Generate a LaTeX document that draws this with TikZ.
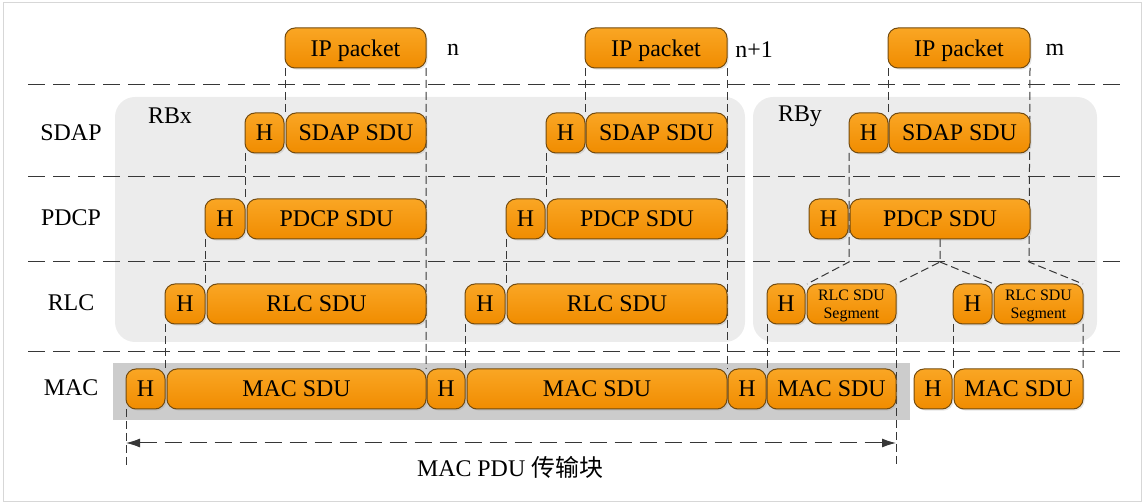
\documentclass[tikz,border=0pt]{standalone}
\usepackage{fontspec}
\setmainfont{Liberation Serif}
\newfontfamily\cjk{Noto Sans CJK SC}
\usetikzlibrary{positioning}
\usetikzlibrary{arrows.meta}
\usetikzlibrary{shadows}
\usetikzlibrary{backgrounds}
\definecolor{pkttop}{RGB}{250,166,36}
\definecolor{pktbot}{RGB}{240,140,0}
\definecolor{pktline}{RGB}{115,75,15}
\definecolor{rbfill}{RGB}{236,236,236}
\definecolor{macfill}{RGB}{204,204,204}
\definecolor{dashcol}{RGB}{55,55,55}
\definecolor{framecol}{RGB}{215,215,215}
\tikzset{
  pkt/.style={draw=pktline, line width=0.5bp, rounded corners=5bp, top color=pkttop, bottom color=pktbot,
    minimum height=20bp, inner sep=0pt, outer sep=0pt, anchor=west, font=\fontsize{12}{14}\selectfont,
    text depth=0pt, drop shadow={shadow xshift=0.8bp, shadow yshift=-0.8bp, opacity=0.2}},
  hdr/.style={pkt, minimum width=19.5bp},
  seg/.style={pkt, align=center, font=\fontsize{8}{9}\selectfont},
  layer/.style={font=\fontsize{12}{14}\selectfont},
  vdash/.style={draw=dashcol, line width=0.5bp, dash pattern=on 4bp off 2bp},
  hdash/.style={draw=dashcol, line width=0.5bp, dash pattern=on 8.5bp off 4bp},
  rb/.style={fill=rbfill, rounded corners=10bp},
}
\begin{document}
\begin{tikzpicture}[>={Latex[length=7bp,width=4.5bp]}]
\useasboundingbox (0bp,0bp) rectangle (572bp,251.5bp);
%%
  \node (l_sdap) at (35.5bp,185bp) [layer] {SDAP};
  \node (l_pdcp) at (35.5bp,142.5bp) [layer] {PDCP};
  \node (l_rlc) at (35.5bp,100bp) [layer] {RLC};
  \node (l_mac) at (35.5bp,57.5bp) [layer] {MAC};
  \node (rbx) at (85bp,193.5bp) [layer] {RBx};
  \node (rby) at (400bp,193.5bp) [layer] {RBy};
%% IP packets
  \node (ip_n) at (142.5bp,227.5bp) [pkt, minimum width=70.5bp] {IP packet};
  \node (ip_n1) at (292.5bp,227.5bp) [pkt, minimum width=71bp] {IP packet};
  \node (ip_m) at (444bp,227.5bp) [pkt, minimum width=71bp] {IP packet};
  \node (t_n) at (226.5bp,226.5bp) [layer] {n};
  \node (t_n1) at (377bp,226.5bp) [layer] {n+1};
  \node (t_m) at (527.5bp,226.5bp) [layer] {m};
%% SDAP
  \node (h_sdap_n) at (122.5bp,185bp) [hdr] {H};
  \node (sdap_n) at (143bp,185bp) [pkt, minimum width=70bp] {SDAP SDU};
  \node (h_sdap_n1) at (273bp,185bp) [hdr] {H};
  \node (sdap_n1) at (293bp,185bp) [pkt, minimum width=70.5bp] {SDAP SDU};
  \node (h_sdap_m) at (424.5bp,185bp) [hdr] {H};
  \node (sdap_m) at (444.5bp,185bp) [pkt, minimum width=70.5bp] {SDAP SDU};
%% PDCP
  \node (h_pdcp_n) at (102.5bp,142bp) [hdr, minimum width=20bp] {H};
  \node (pdcp_n) at (123.5bp,142bp) [pkt, minimum width=89.5bp] {PDCP SDU};
  \node (h_pdcp_n1) at (253bp,142bp) [hdr] {H};
  \node (pdcp_n1) at (273.5bp,142bp) [pkt, minimum width=90bp] {PDCP SDU};
  \node (h_pdcp_m) at (404.5bp,142bp) [hdr] {H};
  \node (pdcp_m) at (425bp,142bp) [pkt, minimum width=90bp] {PDCP SDU};
%% RLC
  \node (h_rlc_n) at (82.5bp,99.5bp) [hdr, minimum width=20bp] {H};
  \node (rlc_n) at (103.5bp,99.5bp) [pkt, minimum width=109.5bp] {RLC SDU};
  \node (h_rlc_n1) at (232.5bp,99.5bp) [hdr, minimum width=20bp] {H};
  \node (rlc_n1) at (253.5bp,99.5bp) [pkt, minimum width=110bp] {RLC SDU};
  \node (h_rlc_m1) at (383.5bp,99.5bp) [hdr, minimum width=19bp] {H};
  \node (seg_m1) at (403.5bp,99.5bp) [seg, minimum width=44.5bp] {RLC SDU\\Segment};
  \node (h_rlc_m2) at (476.5bp,99.5bp) [hdr] {H};
  \node (seg_m2) at (497bp,99.5bp) [seg, minimum width=44.5bp] {RLC SDU\\Segment};
%% MAC
  \node (h_mac_1) at (63bp,57bp) [hdr] {H};
  \node (mac_1) at (83.5bp,57bp) [pkt, minimum width=129.5bp] {MAC SDU};
  \node (h_mac_2) at (213.5bp,57bp) [hdr, minimum width=19bp] {H};
  \node (mac_2) at (233.5bp,57bp) [pkt, minimum width=130bp] {MAC SDU};
  \node (h_mac_3) at (364bp,57bp) [hdr, minimum width=19bp] {H};
  \node (mac_3) at (383.5bp,57bp) [pkt, minimum width=64.5bp] {MAC SDU};
  \node (h_mac_4) at (457bp,57bp) [hdr, minimum width=19bp] {H};
  \node (mac_4) at (477bp,57bp) [pkt, minimum width=64.5bp] {MAC SDU};
  \node (tb) at (255bp,18bp) [layer] {MAC PDU {\cjk 传输块}};
  \coordinate (split_l) at (424.5bp,120.5bp);
  \coordinate (split_c) at (470bp,120.5bp);
  \coordinate (split_r) at (514.5bp,120.5bp);
  \coordinate (tb_l) at (63bp,19bp);
  \coordinate (tb_r) at (448bp,19bp);
  \coordinate (arr_l) at (63bp,30bp);
  \coordinate (arr_r) at (448bp,30bp);
%%
\begin{scope}[on background layer]
  \draw[framecol, line width=0.5bp] (1.5bp,1bp) rectangle (570.5bp,250bp);
  \path[rb] (57.5bp,80.5bp) rectangle (372.5bp,203bp);
  \path[rb] (376.5bp,80.5bp) rectangle (548.5bp,203bp);
  \fill[macfill] (56.5bp,41.5bp) rectangle (455bp,70bp);
  \draw[hdash] (14bp,209bp) -- (562.5bp,209bp);
  \draw[hdash] (14bp,163bp) -- (562.5bp,163bp);
  \draw[hdash] (14bp,120.5bp) -- (562.5bp,120.5bp);
  \draw[hdash] (14bp,75.5bp) -- (562.5bp,75.5bp);
  \draw[vdash] (ip_n.south west) -- (ip_n.south west |- sdap_n.north);
  \draw[vdash] (ip_n.south east) -- (mac_1.north east);
  \draw[vdash] (h_sdap_n.south west) -- (h_sdap_n.south west |- pdcp_n.north);
  \draw[vdash] (h_pdcp_n.south west) -- (h_pdcp_n.south west |- rlc_n.north);
  \draw[vdash] (h_rlc_n.south west) -- (h_rlc_n.south west |- mac_1.north);
  \draw[vdash] (ip_n1.south west) -- (ip_n1.south west |- sdap_n1.north);
  \draw[vdash] (ip_n1.south east) -- (mac_2.north east);
  \draw[vdash] (h_sdap_n1.south west) -- (h_sdap_n1.south west |- pdcp_n1.north);
  \draw[vdash] (h_pdcp_n1.south west) -- (h_pdcp_n1.south west |- rlc_n1.north);
  \draw[vdash] (h_rlc_n1.south west) -- (h_rlc_n1.south west |- mac_2.north);
  \draw[vdash] (ip_m.south west) -- (ip_m.south west |- sdap_m.north);
  \draw[vdash] (ip_m.south east) -- (split_r) -- (seg_m2.north east);
  \draw[vdash] (h_sdap_m.south west) -- (split_l) -- (seg_m1.north west);
  \draw[vdash] (pdcp_m.south) -- (split_c) -- (seg_m1.north east);
  \draw[vdash] (split_c) -- (seg_m2.north west);
  \draw[vdash] (h_rlc_m1.south west) -- (h_rlc_m1.south west |- mac_3.north);
  \draw[vdash] (seg_m1.south east) -- (tb_r);
  \draw[vdash] (h_rlc_m2.south west) -- (h_rlc_m2.south west |- mac_4.north);
  \draw[vdash] (seg_m2.south east) -- (mac_4.north east);
  \draw[vdash] (h_mac_1.south west) -- (tb_l);
  \draw[hdash, <->, dashcol] (arr_l) -- (arr_r);
\end{scope}
%
\end{tikzpicture}
\end{document}
